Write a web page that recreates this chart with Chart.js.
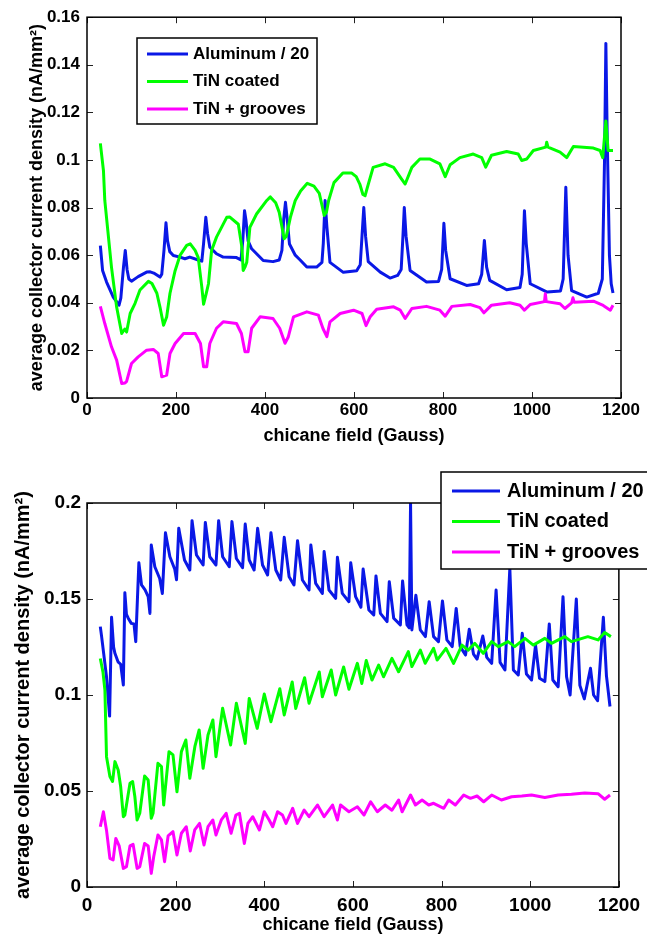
<!DOCTYPE html>
<html>
<head>
<meta charset="utf-8">
<script src="https://cdn.jsdelivr.net/npm/chart.js@4.4.1/dist/chart.umd.min.js"></script>
<style>
  body { margin: 0; background: #fff; }
  canvas { display: block; }
</style>
</head>
<body>
<canvas id="topChart" width="647" height="460"></canvas>
<canvas id="bottomChart" width="647" height="482"></canvas>
<script>
const seriesNames = ["Aluminum / 20", "TiN coated", "TiN + grooves"];
const seriesColors = ["#0a18e6", "#00ff00", "#ff00ff"];
const xTicks = [0, 200, 400, 600, 800, 1000, 1200];
const topYTicks = [0, 0.02, 0.04, 0.06, 0.08, 0.1, 0.12, 0.14, 0.16];
const bottomYTicks = [0, 0.05, 0.1, 0.15, 0.2];
const xTitle = "chicane field (Gauss)";
const yTitle = "average collector current density (nA/mm\u00b2)";

// ---- top panel ----
const topAlX = [30, 35, 44, 59, 72, 76, 82, 86, 90, 94, 100, 115, 134, 142, 150, 164, 168, 173, 177.5, 181, 186, 194, 209, 220, 231, 250, 258, 262, 267, 271, 276, 291, 306, 336, 346, 350, 354, 357, 362, 370, 396, 418, 432, 438, 442, 446, 450, 455, 468, 479, 494, 516, 528, 531, 535, 539, 546, 576, 606, 614, 618, 622, 626, 632, 659, 681, 698, 706, 710, 713, 717, 726, 763, 790, 797, 802, 806, 816, 853, 880, 887, 893, 898, 905, 943, 973, 978, 983, 987, 996, 1034, 1064, 1070, 1076, 1081, 1089, 1123, 1149, 1158, 1163, 1166, 1169, 1174, 1178, 1182];
const topAlY = [0.064, 0.0536, 0.0487, 0.0424, 0.039, 0.042, 0.055, 0.062, 0.054, 0.05, 0.0491, 0.051, 0.0529, 0.053, 0.0525, 0.0508, 0.052, 0.062, 0.0736, 0.066, 0.0615, 0.0599, 0.0592, 0.0585, 0.0592, 0.058, 0.0575, 0.065, 0.0759, 0.069, 0.0634, 0.0606, 0.0592, 0.059, 0.058, 0.066, 0.0787, 0.075, 0.066, 0.0627, 0.0578, 0.0573, 0.058, 0.062, 0.075, 0.0822, 0.075, 0.0647, 0.06, 0.058, 0.055, 0.055, 0.057, 0.065, 0.083, 0.072, 0.057, 0.0528, 0.0535, 0.056, 0.068, 0.08, 0.068, 0.0573, 0.0529, 0.0504, 0.0515, 0.054, 0.068, 0.08, 0.068, 0.0536, 0.0487, 0.049, 0.054, 0.0734, 0.062, 0.0501, 0.0473, 0.048, 0.052, 0.0662, 0.055, 0.0494, 0.0455, 0.0464, 0.052, 0.0787, 0.065, 0.048, 0.0445, 0.045, 0.05, 0.0885, 0.06, 0.0451, 0.0424, 0.044, 0.05, 0.1, 0.149, 0.11, 0.06, 0.048, 0.0441];

const topTinX = [30, 37, 40, 55, 66.6, 78, 85, 89, 97, 108, 119, 138, 146, 157, 164, 172, 179, 186.5, 198, 209, 224, 232, 243, 250, 258, 262, 268, 273, 280, 291, 314, 321, 340, 348, 351, 355, 359, 366, 381, 404, 412, 424, 432, 438, 443, 448, 457, 468, 480, 495, 510, 522, 528, 533, 538, 543, 555, 575, 595, 605, 613, 620, 625, 629, 643, 670, 689, 707, 715, 730, 748, 771, 793, 805, 816, 838, 868, 887, 896, 909, 943, 969, 977, 988, 1003, 1031, 1033, 1036, 1063, 1078, 1093, 1138, 1153, 1159, 1166, 1171, 1182];
const topTinY = [0.107, 0.0955, 0.083, 0.055, 0.0382, 0.0271, 0.029, 0.0277, 0.0355, 0.0398, 0.0454, 0.049, 0.0481, 0.044, 0.0382, 0.0306, 0.034, 0.044, 0.0535, 0.0599, 0.0641, 0.0648, 0.062, 0.059, 0.0466, 0.0394, 0.044, 0.048, 0.062, 0.0676, 0.0759, 0.076, 0.073, 0.0634, 0.0536, 0.055, 0.057, 0.0717, 0.0773, 0.083, 0.0845, 0.082, 0.078, 0.072, 0.0669, 0.068, 0.0759, 0.083, 0.087, 0.0902, 0.089, 0.086, 0.081, 0.0767, 0.078, 0.083, 0.0905, 0.0945, 0.0945, 0.093, 0.0899, 0.0855, 0.085, 0.0878, 0.0969, 0.0984, 0.0969, 0.092, 0.0899, 0.0969, 0.1004, 0.1004, 0.0984, 0.093, 0.098, 0.101, 0.1025, 0.101, 0.097, 0.102, 0.1036, 0.1025, 0.0998, 0.1004, 0.104, 0.1054, 0.1075, 0.1054, 0.1033, 0.101, 0.1057, 0.105, 0.104, 0.101, 0.1164, 0.104, 0.104];

const topGrvX = [30, 40, 55, 66.6, 78, 85.4, 89, 100, 115, 134, 149, 160, 168, 179, 186.5, 198, 217, 243, 255, 262, 269, 276, 291, 306, 336, 347, 355, 362, 370, 389, 418, 433, 445, 452, 464, 494, 520, 530, 539, 546, 569, 599, 618, 627, 636, 651, 689, 704, 715, 730, 763, 793, 805, 820, 861, 883, 892, 909, 950, 973, 983, 996, 1028, 1030, 1032, 1063, 1074, 1089, 1092, 1095, 1138, 1160, 1176, 1182];
const topGrvY = [0.0385, 0.0313, 0.0215, 0.0159, 0.0061, 0.0063, 0.007, 0.0145, 0.0173, 0.0201, 0.0204, 0.0187, 0.0089, 0.0096, 0.0187, 0.0229, 0.0271, 0.0271, 0.0229, 0.0131, 0.0131, 0.0229, 0.0293, 0.032, 0.0313, 0.0271, 0.0194, 0.0194, 0.0293, 0.0341, 0.0334, 0.0293, 0.023, 0.0255, 0.0341, 0.0362, 0.0348, 0.0293, 0.0258, 0.032, 0.0355, 0.0369, 0.0355, 0.0304, 0.034, 0.0373, 0.0383, 0.0369, 0.0334, 0.0376, 0.0385, 0.0369, 0.0344, 0.0385, 0.0393, 0.038, 0.0358, 0.039, 0.04, 0.039, 0.0369, 0.0393, 0.0405, 0.0438, 0.0405, 0.0396, 0.0376, 0.04, 0.0421, 0.0402, 0.0407, 0.0389, 0.0369, 0.039];

// ---- bottom panel ----
const botAlX = [30, 33, 44, 51, 55.4, 60, 63, 70, 76, 82, 85.4, 89, 93, 100, 106, 110, 117, 123, 131, 138, 142, 145, 153, 164, 170, 177, 187, 198, 202, 207, 220, 232, 237, 247, 262, 267, 277, 291, 297, 306, 321, 327, 337, 351, 357, 366, 377, 385, 396, 407.5, 415, 426, 437, 445, 456, 467, 475, 486, 501, 505, 516, 531, 535, 546, 561, 565, 576, 591, 595, 606, 618, 623, 636, 647, 652, 662, 677, 682, 692, 707, 712, 722, 727, 730, 733, 742, 752, 763.5, 772, 782, 793, 802, 812, 824, 833, 842, 854, 862.5, 872, 880, 893, 902, 913, 923, 932, 943, 954, 962, 973, 982, 991.5, 1003, 1012, 1021, 1033, 1043, 1051, 1063, 1074, 1082, 1090, 1104, 1112, 1122, 1136, 1143, 1152, 1165, 1172, 1180];
const botAlY = [0.1356, 0.1304, 0.1095, 0.089, 0.1405, 0.125, 0.1217, 0.1173, 0.116, 0.1052, 0.1533, 0.142, 0.14, 0.1373, 0.137, 0.1278, 0.1689, 0.1573, 0.1547, 0.1512, 0.1425, 0.1781, 0.1668, 0.1607, 0.1529, 0.1845, 0.172, 0.1655, 0.16, 0.1868, 0.1703, 0.1651, 0.1908, 0.1729, 0.1677, 0.1899, 0.172, 0.1677, 0.1908, 0.172, 0.1668, 0.1903, 0.1711, 0.1663, 0.189, 0.1703, 0.1651, 0.1868, 0.1677, 0.1625, 0.1845, 0.1651, 0.1599, 0.1821, 0.1616, 0.1573, 0.1804, 0.1599, 0.1547, 0.1781, 0.1581, 0.1529, 0.1747, 0.1547, 0.1503, 0.1717, 0.1529, 0.1486, 0.1689, 0.1512, 0.1457, 0.1656, 0.1443, 0.1417, 0.162, 0.1425, 0.1382, 0.159, 0.14, 0.1365, 0.1594, 0.1365, 0.135, 0.2, 0.1339, 0.152, 0.1339, 0.1304, 0.1486, 0.1304, 0.1278, 0.149, 0.1287, 0.1252, 0.1451, 0.1252, 0.1208, 0.1342, 0.1213, 0.1187, 0.1307, 0.1196, 0.1165, 0.1547, 0.117, 0.113, 0.166, 0.113, 0.1104, 0.1321, 0.1109, 0.1078, 0.126, 0.1087, 0.107, 0.137, 0.1078, 0.1043, 0.1512, 0.1095, 0.1, 0.15, 0.105, 0.098, 0.1139, 0.1, 0.097, 0.1405, 0.11, 0.094];

const botTinX = [30, 36, 40.4, 44, 51.7, 57.7, 63, 70.4, 76, 82, 85.4, 97, 103, 108, 113, 119, 130, 138, 145, 149, 160, 168, 173, 185, 194, 203, 213, 223, 232, 243.6, 253, 262, 273, 284, 291, 306, 324, 337, 357, 366, 384, 400, 415, 435, 445, 463, 471, 491, 501, 524, 531, 551, 561, 579, 591, 610, 620, 630, 643, 658, 669, 688, 703, 725, 733, 752, 763, 782, 790, 810, 827, 846, 860, 875, 894, 913, 928, 950, 965, 988, 1007, 1033, 1048, 1078, 1093, 1130, 1153, 1168, 1182];
const botTinY = [0.119, 0.112, 0.1026, 0.0679, 0.0575, 0.055, 0.0653, 0.0609, 0.0522, 0.0366, 0.0375, 0.054, 0.0549, 0.047, 0.0349, 0.0384, 0.0578, 0.0557, 0.0358, 0.0384, 0.0644, 0.0627, 0.0427, 0.0705, 0.0688, 0.0496, 0.0705, 0.0766, 0.0566, 0.0734, 0.0818, 0.0618, 0.0792, 0.087, 0.0679, 0.0931, 0.074, 0.0957, 0.0748, 0.0982, 0.0826, 0.1005, 0.0861, 0.1033, 0.0896, 0.1068, 0.093, 0.109, 0.0957, 0.112, 0.0991, 0.113, 0.1, 0.1146, 0.103, 0.1165, 0.106, 0.118, 0.1078, 0.1156, 0.1095, 0.1191, 0.1121, 0.1226, 0.1148, 0.1234, 0.1165, 0.1243, 0.1182, 0.1243, 0.1165, 0.126, 0.1234, 0.1269, 0.1217, 0.1278, 0.1252, 0.1278, 0.1252, 0.1295, 0.126, 0.1295, 0.1269, 0.1304, 0.1278, 0.1304, 0.1287, 0.1325, 0.1304];

const botGrvX = [30, 37, 44, 51.7, 59, 65, 72.6, 82, 89, 97, 104, 113, 119, 130, 138, 145, 150.5, 160, 168, 175, 183, 194, 203, 213, 224, 233, 243, 254, 264, 273, 284, 291, 303, 314, 325, 336, 344, 355, 363, 374, 389, 400, 411, 419, 430, 441, 449, 464, 475, 490, 501, 520, 535, 554, 565, 572, 591, 610, 625, 640, 655, 673, 688, 703, 711, 730, 741, 756, 771, 782, 805, 816, 831, 850, 865, 880, 895, 913, 935, 958, 981, 1003, 1033, 1063, 1093, 1123, 1153, 1168, 1180];
const botGrvY = [0.0314, 0.0392, 0.0296, 0.0149, 0.0141, 0.0253, 0.0214, 0.0097, 0.0106, 0.0214, 0.0222, 0.0097, 0.0106, 0.0227, 0.0214, 0.0071, 0.0158, 0.0271, 0.0245, 0.0132, 0.0266, 0.0288, 0.0167, 0.028, 0.0314, 0.0188, 0.0297, 0.0331, 0.0219, 0.0314, 0.0349, 0.0271, 0.0349, 0.0384, 0.028, 0.0375, 0.0384, 0.0227, 0.0331, 0.0366, 0.0297, 0.0392, 0.0349, 0.0314, 0.0392, 0.0375, 0.0331, 0.041, 0.0331, 0.0401, 0.0366, 0.0427, 0.0366, 0.0427, 0.0349, 0.0427, 0.0392, 0.0418, 0.0375, 0.0444, 0.0392, 0.0427, 0.04, 0.0453, 0.0392, 0.0479, 0.0427, 0.0453, 0.0427, 0.0436, 0.041, 0.0453, 0.0427, 0.0479, 0.0462, 0.0474, 0.0444, 0.0479, 0.0453, 0.047, 0.0474, 0.0479, 0.0466, 0.0479, 0.0483, 0.049, 0.0486, 0.0457, 0.0479];

const FONT = '"Liberation Sans", Arial, Helvetica, sans-serif';
Chart.defaults.font.family = FONT;
Chart.defaults.color = '#000';

function pts(xs, ys) {
    return xs.map((x, i) => ({ x: x, y: ys[i] }));
}

// axes box with inward ticks on all four sides (MATLAB style)
const framePlugin = {
    id: 'frame',
    afterDatasetsDraw(chart) {
        const { ctx, chartArea: a, scales: { x, y } } = chart;
        const len = 6;
        ctx.save();
        ctx.strokeStyle = '#222';
        ctx.lineWidth = 1;
        ctx.beginPath();
        x.ticks.forEach(t => {
            const px = Math.round(x.getPixelForValue(t.value)) + 0.5;
            ctx.moveTo(px, a.bottom); ctx.lineTo(px, a.bottom - len);
            ctx.moveTo(px, a.top); ctx.lineTo(px, a.top + len);
        });
        y.ticks.forEach(t => {
            const py = Math.round(y.getPixelForValue(t.value)) + 0.5;
            ctx.moveTo(a.left, py); ctx.lineTo(a.left + len, py);
            ctx.moveTo(a.right, py); ctx.lineTo(a.right - len, py);
        });
        ctx.stroke();
        ctx.strokeStyle = '#000';
        ctx.lineWidth = 1.5;
        ctx.strokeRect(a.left, a.top, a.right - a.left, a.bottom - a.top);
        ctx.restore();
    }
};

// boxed legend placed like the original figure
const boxLegend = {
    id: 'boxLegend',
    afterDraw(chart, args, o) {
        const { ctx } = chart;
        ctx.save();
        ctx.fillStyle = '#fff';
        ctx.fillRect(o.left, o.top, o.width, o.height);
        ctx.strokeStyle = '#000';
        ctx.lineWidth = 1.5;
        ctx.strokeRect(o.left, o.top, o.width, o.height);
        ctx.font = 'bold ' + o.fontSize + 'px ' + FONT;
        ctx.textBaseline = 'middle';
        chart.data.datasets.forEach((ds, i) => {
            const yy = o.firstRow + i * o.rowGap;
            ctx.strokeStyle = ds.borderColor;
            ctx.lineWidth = 3;
            ctx.beginPath();
            ctx.moveTo(o.lineStart, yy);
            ctx.lineTo(o.lineEnd, yy);
            ctx.stroke();
            ctx.fillStyle = '#000';
            ctx.fillText(ds.label, o.textX, yy);
        });
        ctx.restore();
    }
};

function makePanel(id, data, cfg) {
    const datasets = data.map((d, i) => ({
        label: seriesNames[i],
        data: pts(d[0], d[1]),
        borderColor: seriesColors[i],
        borderWidth: 3,
        pointRadius: 0,
        fill: false,
        tension: 0,
        borderJoinStyle: 'round',
        order: 2 - i
    }));
    return new Chart(document.getElementById(id), {
        type: 'line',
        data: { datasets: datasets },
        plugins: [framePlugin, boxLegend],
        options: {
            responsive: false,
            animation: false,
            devicePixelRatio: 1,
            layout: { padding: { left: 0, right: 26, top: cfg.padTop, bottom: 0 } },
            plugins: {
                legend: { display: false },
                tooltip: { enabled: false },
                boxLegend: cfg.legend
            },
            scales: {
                x: {
                    type: 'linear',
                    min: 0, max: 1200,
                    afterBuildTicks: s => { s.ticks = xTicks.map(v => ({ value: v })); },
                    afterFit: s => { s.height = cfg.xHeight; },
                    grid: { display: false, drawTicks: false },
                    border: { display: false },
                    ticks: {
                        autoSkip: false, maxRotation: 0, padding: cfg.xTickPad,
                        font: { size: cfg.tickSize, weight: 'bold' },
                        callback: v => String(v)
                    },
                    title: {
                        display: true, text: xTitle,
                        font: { size: cfg.xTitleSize, weight: 'bold' },
                        padding: { top: 0, bottom: cfg.xTitlePad }
                    }
                },
                y: {
                    type: 'linear',
                    min: cfg.yTicks[0], max: cfg.yTicks[cfg.yTicks.length - 1],
                    afterBuildTicks: s => { s.ticks = cfg.yTicks.map(v => ({ value: v })); },
                    afterFit: s => { s.width = 87; },
                    grid: { display: false, drawTicks: false },
                    border: { display: false },
                    ticks: {
                        autoSkip: false, padding: cfg.yTickPad,
                        font: { size: cfg.tickSize, weight: 'bold' },
                        callback: v => String(v)
                    },
                    title: {
                        display: true, text: yTitle,
                        font: { size: cfg.yTitleSize, weight: 'bold' },
                        padding: { top: cfg.yTitlePad, bottom: 0 }
                    }
                }
            }
        }
    });
}

makePanel('topChart',
    [[topAlX, topAlY], [topTinX, topTinY], [topGrvX, topGrvY]],
    {
        padTop: 16, xHeight: 62, xTickPad: 2, yTickPad: 7,
        tickSize: 17, xTitleSize: 18, xTitlePad: 13, yTitleSize: 18, yTitlePad: 26,
        yTicks: topYTicks,
        legend: { left: 137, top: 38, width: 180, height: 86, firstRow: 54, rowGap: 27.5,
                  lineStart: 147, lineEnd: 188, textX: 193, fontSize: 17 }
    });

makePanel('bottomChart',
    [[botAlX, botAlY], [botTinX, botTinY], [botGrvX, botGrvY]],
    {
        padTop: 43, xHeight: 55, xTickPad: 7, yTickPad: 6,
        tickSize: 19, xTitleSize: 18, xTitlePad: 6, yTitleSize: 20, yTitlePad: 11,
        yTicks: bottomYTicks,
        legend: { left: 441, top: 12, width: 230, height: 97, firstRow: 31, rowGap: 30.5,
                  lineStart: 452, lineEnd: 500, textX: 507, fontSize: 20 }
    });
</script>
</body>
</html>
